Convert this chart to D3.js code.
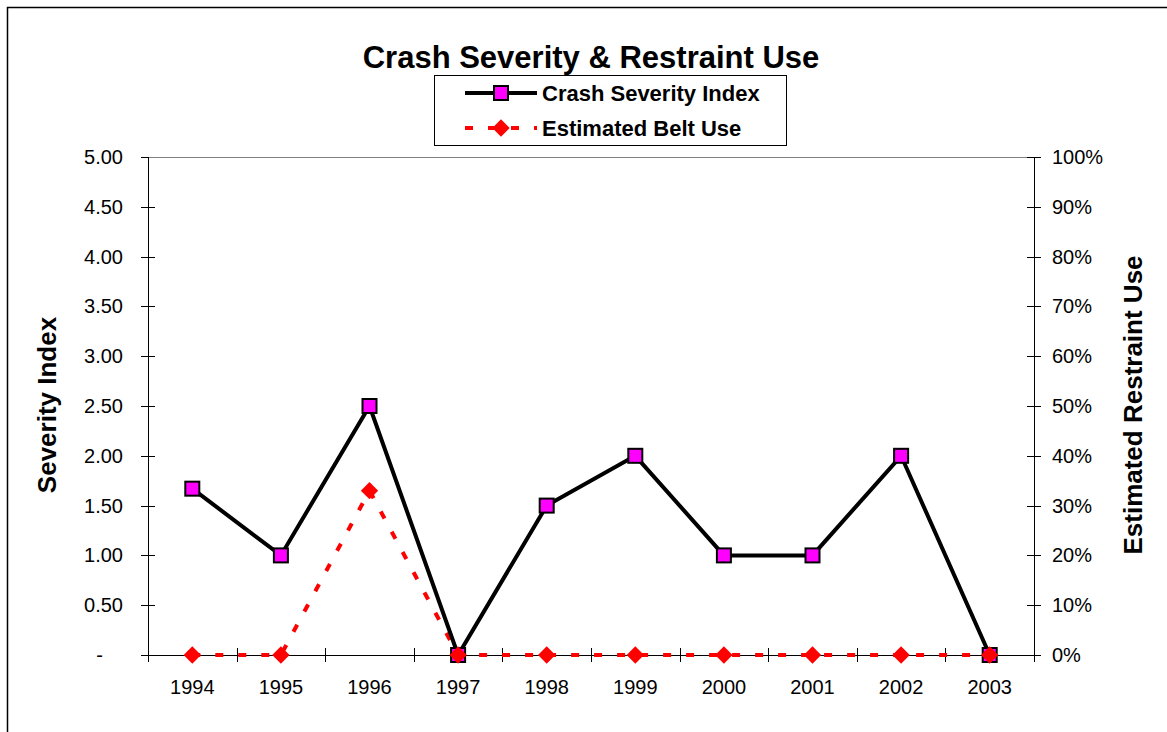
<!doctype html>
<html lang="en">
<head>
    <meta charset="UTF-8">
    <title>Crash Severity & Restraint Use</title>
    <script src="https://d3js.org/d3.v7.min.js"></script>
    <style>
        body { margin: 0; background: #fff; }
        text { font-family: "Liberation Sans", Arial, sans-serif; fill: #000; }
    </style>
</head>
<body>
    <script>
        var years = ["1994", "1995", "1996", "1997", "1998", "1999", "2000", "2001", "2002", "2003"],
            severity = [1.67, 1.0, 2.5, 0, 1.5, 2.0, 1.0, 1.0, 2.0, 0],
            beltUse = [0, 0, 0.33, 0, 0, 0, 0, 0, 0, 0],
            leftTicks = [0, 0.5, 1, 1.5, 2, 2.5, 3, 3.5, 4, 4.5, 5],
            rightTicks = [0, 0.1, 0.2, 0.3, 0.4, 0.5, 0.6, 0.7, 0.8, 0.9, 1];

        var width = 1167, height = 732,
            plotL = 148, plotR = 1034, plotT = 157, plotB = 655;

        var svg = d3.select("body").append("svg")
            .attr("width", width)
            .attr("height", height);

        // chart frame
        svg.append("rect")
            .attr("x", 7.5).attr("y", 7.5)
            .attr("width", width + 10).attr("height", height + 10)
            .attr("fill", "none").attr("stroke", "#000").attr("stroke-width", 1.5);

        var x = d3.scaleBand().domain(years).range([plotL, plotR]);
        var y = d3.scaleLinear().domain([0, 5]).range([plotB, plotT]);
        var y2 = d3.scaleLinear().domain([0, 1]).range([plotB, plotT]);
        var cx = function(d, i){ return x(years[i]) + x.bandwidth() / 2; };

        // plot area top border
        svg.append("line")
            .attr("x1", plotL).attr("x2", plotR)
            .attr("y1", plotT + 0.5).attr("y2", plotT + 0.5)
            .attr("stroke", "#808080").attr("stroke-width", 1);

        // left axis
        var gl = svg.append("g");
        gl.append("line").attr("x1", plotL + 0.5).attr("x2", plotL + 0.5).attr("y1", plotT).attr("y2", plotB)
            .attr("stroke", "#000");
        gl.selectAll("line.t").data(leftTicks).enter().append("line").attr("class", "t")
            .attr("x1", plotL - 7).attr("x2", function(d){ return d === 5 ? plotL : plotL + 7; })
            .attr("y1", function(d){ return Math.round(y(d)) + 0.5; })
            .attr("y2", function(d){ return Math.round(y(d)) + 0.5; })
            .attr("stroke", "#000");
        gl.selectAll("text").data(leftTicks).enter().append("text")
            .attr("x", 123).attr("y", function(d){ return y(d); })
            .attr("dx", function(d){ return d === 0 ? -20 : 0; })
            .attr("dy", "0.35em").attr("text-anchor", "end").attr("font-size", 20)
            .text(function(d){ return d === 0 ? "-" : d3.format(".2f")(d); });

        // right axis
        var gr = svg.append("g");
        gr.append("line").attr("x1", plotR + 0.5).attr("x2", plotR + 0.5).attr("y1", plotT).attr("y2", plotB)
            .attr("stroke", "#000");
        gr.selectAll("line.t").data(rightTicks).enter().append("line").attr("class", "t")
            .attr("x1", plotR - 7).attr("x2", plotR + 7)
            .attr("y1", function(d){ return Math.round(y2(d)) + 0.5; })
            .attr("y2", function(d){ return Math.round(y2(d)) + 0.5; })
            .attr("stroke", "#000");
        gr.selectAll("text").data(rightTicks).enter().append("text")
            .attr("x", 1052).attr("y", function(d){ return y2(d); })
            .attr("dy", "0.35em").attr("font-size", 20)
            .text(function(d){ return d3.format(".0%")(d); });

        // x axis
        var gx = svg.append("g");
        gx.append("line").attr("x1", plotL).attr("x2", plotR).attr("y1", plotB + 0.5).attr("y2", plotB + 0.5)
            .attr("stroke", "#000");
        var bounds = years.map(function(d){ return x(d); }).concat([plotR]);
        gx.selectAll("line.t").data(bounds).enter().append("line").attr("class", "t")
            .attr("x1", function(d){ return Math.round(d) + 0.5; })
            .attr("x2", function(d){ return Math.round(d) + 0.5; })
            .attr("y1", function(d, i){ return i === 0 || i === bounds.length - 1 ? plotB : plotB - 7; })
            .attr("y2", plotB + 7)
            .attr("stroke", "#000");
        gx.selectAll("text").data(years).enter().append("text")
            .attr("x", cx).attr("y", 694)
            .attr("text-anchor", "middle").attr("font-size", 20)
            .text(function(d){ return d; });

        // belt use line (dashed red)
        var beltLine = d3.line().x(cx).y(function(d){ return y2(d); });
        svg.append("path").datum(beltUse)
            .attr("d", beltLine)
            .attr("fill", "none").attr("stroke", "#ff0000")
            .attr("stroke-width", 4).attr("stroke-dasharray", "8,15");

        // severity line
        var sevLine = d3.line().x(cx).y(function(d){ return y(d); });
        svg.append("path").datum(severity)
            .attr("d", sevLine)
            .attr("fill", "none").attr("stroke", "#000").attr("stroke-width", 4);

        svg.selectAll("rect.sev").data(severity).enter().append("rect").attr("class", "sev")
            .attr("x", function(d, i){ return cx(d, i) - 7; })
            .attr("y", function(d){ return y(d) - 7; })
            .attr("width", 14).attr("height", 14)
            .attr("fill", "#ff00ff").attr("stroke", "#000").attr("stroke-width", 2);

        var diamond = d3.symbol().type(d3.symbolSquare).size(150);
        svg.selectAll("path.belt").data(beltUse).enter().append("path").attr("class", "belt")
            .attr("d", diamond)
            .attr("transform", function(d, i){ return "translate(" + cx(d, i) + "," + y2(d) + ") rotate(45)"; })
            .attr("fill", "#ff0000");

        // title
        svg.append("text")
            .attr("x", 591).attr("y", 68)
            .attr("text-anchor", "middle").attr("font-size", 31).attr("font-weight", "bold")
            .text("Crash Severity & Restraint Use");

        // axis titles
        svg.append("text")
            .attr("transform", "translate(56,405) rotate(-90)")
            .attr("text-anchor", "middle").attr("font-size", 26).attr("font-weight", "bold")
            .text("Severity Index");
        svg.append("text")
            .attr("transform", "translate(1142,405) rotate(-90)")
            .attr("text-anchor", "middle").attr("font-size", 26).attr("font-weight", "bold")
            .text("Estimated Restraint Use");

        // legend
        var lg = svg.append("g");
        lg.append("rect")
            .attr("x", 434.5).attr("y", 75.5).attr("width", 352).attr("height", 70)
            .attr("fill", "#fff").attr("stroke", "#000").attr("stroke-width", 1);
        lg.append("line").attr("x1", 465).attr("x2", 537).attr("y1", 93).attr("y2", 93)
            .attr("stroke", "#000").attr("stroke-width", 4);
        lg.append("rect").attr("x", 494).attr("y", 86).attr("width", 14).attr("height", 14)
            .attr("fill", "#ff00ff").attr("stroke", "#000").attr("stroke-width", 2);
        lg.append("text").attr("x", 542).attr("y", 93).attr("dy", "0.35em")
            .attr("font-size", 22).attr("font-weight", "bold").text("Crash Severity Index");
        lg.append("line").attr("x1", 465).attr("x2", 537).attr("y1", 128).attr("y2", 128)
            .attr("stroke", "#ff0000").attr("stroke-width", 4).attr("stroke-dasharray", "8,15");
        lg.append("path").attr("d", diamond)
            .attr("transform", "translate(501,128) rotate(45)")
            .attr("fill", "#ff0000");
        lg.append("text").attr("x", 542).attr("y", 128).attr("dy", "0.35em")
            .attr("font-size", 22).attr("font-weight", "bold").text("Estimated Belt Use");
    </script>
</body>
</html>
